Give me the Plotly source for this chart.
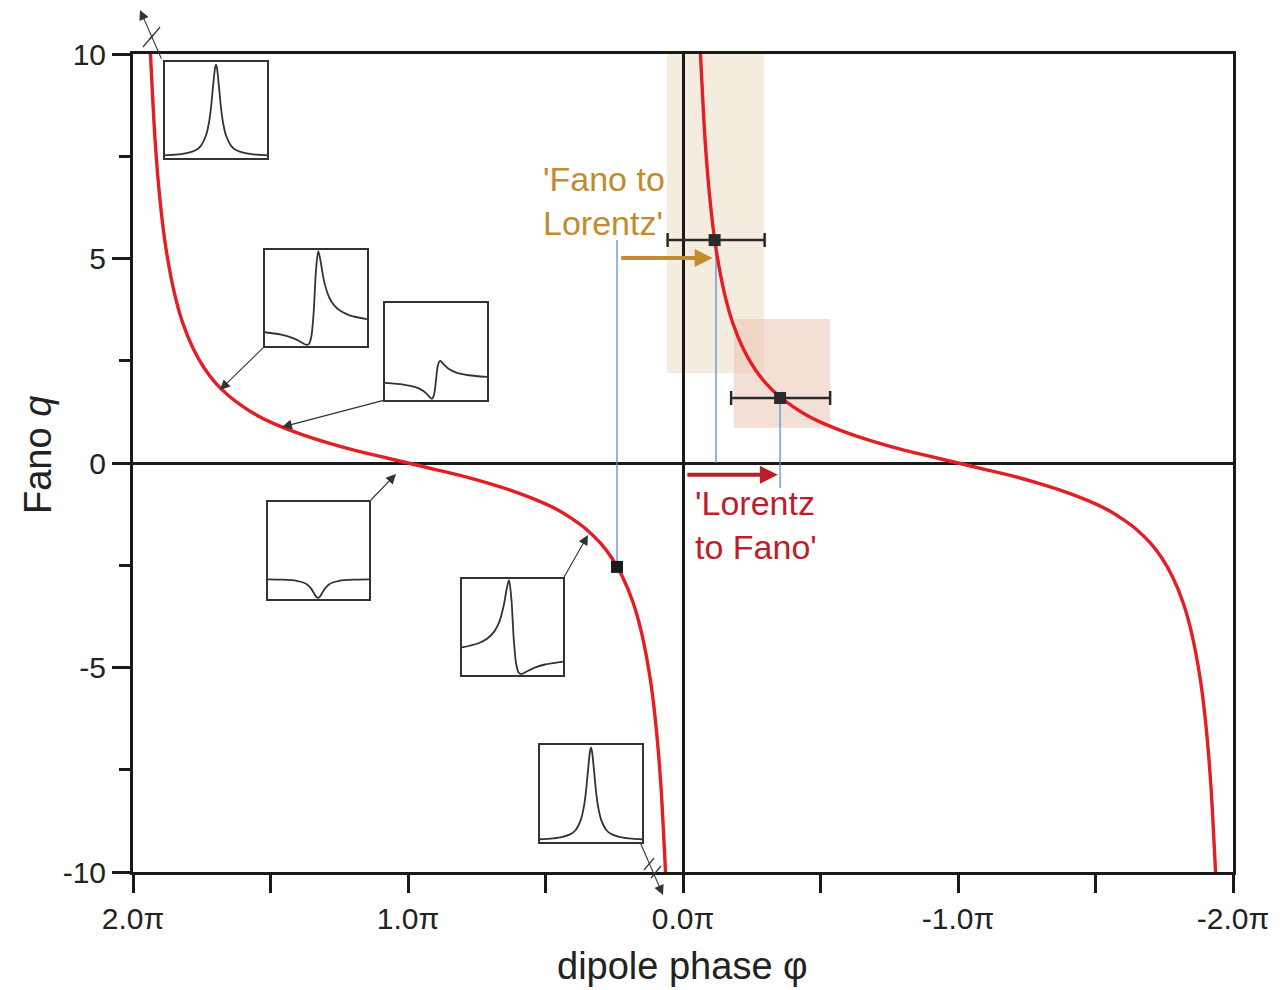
import plotly.graph_objects as go

# ---------------- data (phase in units of pi) ----------------
phi_left = [1.937, 1.92, 1.90, 1.88, 1.85, 1.82, 1.78, 1.74, 1.70, 1.65, 1.60, 1.55, 1.50,
            1.40, 1.30, 1.20, 1.10, 1.00, 0.90, 0.80, 0.70, 0.60, 0.50, 0.45, 0.40, 0.35,
            0.30, 0.26, 0.22, 0.18, 0.15, 0.12, 0.10, 0.08, 0.063]
q_left = [10.07, 7.92, 6.31, 5.24, 4.17, 3.44, 2.78, 2.31, 1.96, 1.63, 1.38, 1.17, 1.00,
          0.73, 0.51, 0.32, 0.16, 0.00, -0.16, -0.32, -0.51, -0.73, -1.00, -1.17, -1.38, -1.63,
          -1.96, -2.31, -2.78, -3.44, -4.17, -5.24, -6.31, -7.92, -10.07]
phi_right = [-0.063, -0.08, -0.10, -0.12, -0.15, -0.18, -0.22, -0.26, -0.30, -0.35, -0.40,
             -0.45, -0.50, -0.60, -0.70, -0.80, -0.90, -1.00, -1.10, -1.20, -1.30, -1.40,
             -1.50, -1.55, -1.60, -1.65, -1.70, -1.74, -1.78, -1.82, -1.85, -1.88, -1.90,
             -1.92, -1.937]
q_right = [10.07, 7.92, 6.31, 5.24, 4.17, 3.44, 2.78, 2.31, 1.96, 1.63, 1.38, 1.17, 1.00,
           0.73, 0.51, 0.32, 0.16, 0.00, -0.16, -0.32, -0.51, -0.73, -1.00, -1.17, -1.38,
           -1.63, -1.96, -2.31, -2.78, -3.44, -4.17, -5.24, -6.31, -7.92, -10.07]

# measured points
meas_phi = [-0.115, -0.353]
meas_q = [5.45, 1.59]
meas_err_plus = [0.171, 0.178]
meas_err_minus = [0.182, 0.182]
calc_phi = [0.24]
calc_q = [-2.54]

# blue guide lines
guide_phi = [0.24, -0.12, -0.353]
guide_top = [5.45, 5.45, 1.59]
guide_bottom = [-2.54, 0.0, -0.61]

# shaded uncertainty bands
band_phi0 = [0.058, -0.185]
band_phi1 = [-0.295, -0.535]
band_q0 = [2.2, 0.86]
band_q1 = [10.0, 3.52]
band_colors = ["rgba(233,219,191,0.5)", "rgba(233,191,173,0.5)"]

x_tickvals = [2, 1, 0, -1, -2]
x_ticktext = ["2.0π", "1.0π", "0.0π", "-1.0π", "-2.0π"]
x_minor = [1.5, 0.5, -0.5, -1.5]
y_tickvals = [-10, -5, 0, 5, 10]
y_ticktext = ["-10", "-5", "0", "5", "10"]
y_minor = [-7.5, -2.5, 2.5, 7.5]

# inset line shapes
lorentz_x = [0, 0.1, 0.2, 0.3, 0.35, 0.4, 0.43, 0.45, 0.47, 0.49, 0.5, 0.51, 0.53, 0.55,
             0.57, 0.6, 0.65, 0.7, 0.8, 0.9, 1.0]
lorentz_y = [0.01, 0.016, 0.03, 0.065, 0.11, 0.22, 0.36, 0.52, 0.75, 0.96, 1.0, 0.96, 0.75,
             0.52, 0.36, 0.22, 0.11, 0.065, 0.03, 0.016, 0.01]
fano2_x = [0, 0.148, 0.28, 0.346, 0.39, 0.412, 0.434, 0.456, 0.478, 0.5, 0.522, 0.544,
           0.566, 0.588, 0.632, 0.676, 0.742, 0.83, 1.0]
fano2_y = [0.675, 0.554, 0.346, 0.17, 0.035, 0, 0.077, 0.5, 1.8, 4.0, 5.0, 4.5, 3.77, 3.2,
           2.5, 2.12, 1.8, 1.576, 1.371]
fano1_x = [0, 0.18, 0.3, 0.38, 0.42, 0.44, 0.46, 0.48, 0.5, 0.52, 0.54, 0.56, 0.58, 0.62,
           0.7, 0.82, 1.0]
fano1_y = [0.84, 0.754, 0.615, 0.4, 0.2, 0.077, 0, 0.2, 1.0, 1.8, 2.0, 1.92, 1.8, 1.6,
           1.385, 1.246, 1.16]
fano0_x = [0, 0.145, 0.285, 0.355, 0.39, 0.425, 0.453, 0.474, 0.495, 0.516, 0.537, 0.565,
           0.6, 0.635, 0.705, 0.845, 1.0]
fano0_y = [0.98, 0.96, 0.9, 0.8, 0.69, 0.5, 0.265, 0.083, 0, 0.083, 0.265, 0.5, 0.69, 0.8,
           0.9, 0.96, 0.98]
fanom2_x = [0, 0.156, 0.251, 0.322, 0.37, 0.418, 0.441, 0.465, 0.489, 0.513, 0.537, 0.56,
            0.584, 0.608, 0.656, 0.727, 0.822, 1.0]
fanom2_y = [1.413, 1.62, 1.885, 2.28, 2.79, 3.77, 4.5, 5.0, 4.0, 1.8, 0.5, 0.077, 0, 0.034,
            0.17, 0.346, 0.5, 0.655]

# ---------------- layout geometry (pixels) ----------------
W, H = 1281, 990
PL, PR, PT, PB = 133, 1233, 54, 872


def px(x):
    return (x - PL) / (PR - PL)


def py(y):
    return (PB - y) / (PB - PT)


BLACK = "#1a1a1a"
RED = "#E41E25"
GOLD = "#C48A32"
DARKRED = "#BC1F2B"
BLUE = "#5B8ED3"

fig = go.Figure()

# bands
shapes = []
for a, b, c, d, col in zip(band_phi0, band_phi1, band_q0, band_q1, band_colors):
    shapes.append(dict(type="rect", xref="x", yref="y", x0=a, x1=b, y0=c, y1=d,
                       fillcolor=col, line=dict(width=0), layer="below"))

# guide lines
for gx, gt, gb in zip(guide_phi, guide_top, guide_bottom):
    fig.add_trace(go.Scatter(x=[gx, gx], y=[gt, gb], mode="lines",
                             line=dict(color=BLUE, width=1.3), hoverinfo="skip"))

# curve
fig.add_trace(go.Scatter(x=phi_left, y=q_left, mode="lines",
                         line=dict(color=RED, width=3.4, shape="spline", smoothing=0.6)))
fig.add_trace(go.Scatter(x=phi_right, y=q_right, mode="lines",
                         line=dict(color=RED, width=3.4, shape="spline", smoothing=0.6)))

# points
fig.add_trace(go.Scatter(x=meas_phi, y=meas_q, mode="markers",
                         marker=dict(symbol="square", size=12, color="#2a2a2a"),
                         error_x=dict(type="data", symmetric=False, array=meas_err_plus,
                                      arrayminus=meas_err_minus, color="#2a2a2a",
                                      thickness=2.5, width=7)))
fig.add_trace(go.Scatter(x=calc_phi, y=calc_q, mode="markers",
                         marker=dict(symbol="square", size=12, color="#1a1a1a")))

# insets
inset_boxes = [(165, 267, 62, 158), (265, 367, 250, 346), (385, 487, 303, 400),
               (268, 369, 502, 599), (462, 563, 579, 675), (540, 642, 745, 842)]
inset_data = [(lorentz_x, lorentz_y, [-0.02, 1.03]),
              (fano2_x, fano2_y, [-0.06, 5.06]),
              (fano1_x, fano1_y, [-0.06, 5.06]),
              (fano0_x, fano0_y, [-0.06, 5.06]),
              (fanom2_x, fanom2_y, [-0.06, 5.06]),
              (lorentz_x, lorentz_y, [-0.02, 1.03])]

layout_axes = {}
for i, ((x0, x1, y0, y1), (ix, iy, yr)) in enumerate(zip(inset_boxes, inset_data), start=2):
    fig.add_trace(go.Scatter(x=ix, y=iy, mode="lines", xaxis=f"x{i}", yaxis=f"y{i}",
                             line=dict(color="#333333", width=1.8, shape="spline",
                                       smoothing=0.8)))
    common = dict(showline=True, mirror=True, linecolor="#333333", linewidth=1.6,
                  showticklabels=False, ticks="", showgrid=False, zeroline=False)
    layout_axes[f"xaxis{i}"] = dict(domain=[px(x0), px(x1)], anchor=f"y{i}",
                                    range=[0, 1], **common)
    layout_axes[f"yaxis{i}"] = dict(domain=[py(y1), py(y0)], anchor=f"x{i}",
                                    range=yr, **common)

annotations = []
# inset pointer arrows: (tail px, tip px)
pointers = [((162, 60), (140, 10)), ((265, 346), (220, 390)), ((385, 400), (282, 427)),
            ((369, 502), (396, 474)), ((563, 579), (588, 535)), ((640, 842), (663, 895))]
for (tx, ty), (hx, hy) in pointers:
    annotations.append(dict(x=px(hx), y=py(hy), xref="paper", yref="paper", text="",
                            showarrow=True, ax=tx - hx, ay=ty - hy, axref="pixel",
                            ayref="pixel", arrowhead=2, arrowsize=1.8, arrowwidth=1.1,
                            arrowcolor="#333333", standoff=0))

# break marks on the off-scale pointers
for cx, cy in [(148, 41), (155, 33), (649, 864), (656, 872)]:
    shapes.append(dict(type="line", xref="paper", yref="paper",
                       x0=px(cx - 5), y0=py(cy + 6), x1=px(cx + 5), y1=py(cy - 6),
                       line=dict(color="#333333", width=1.2)))

# transition arrows
annotations.append(dict(x=-0.108, y=5.01, xref="x", yref="y", text="", showarrow=True,
                        ax=-93, ay=0, axref="pixel", ayref="pixel", arrowhead=2,
                        arrowsize=0.9, arrowwidth=4, arrowcolor=GOLD, standoff=0))
annotations.append(dict(x=-0.345, y=-0.29, xref="x", yref="y", text="", showarrow=True,
                        ax=-92, ay=0, axref="pixel", ayref="pixel", arrowhead=2,
                        arrowsize=0.9, arrowwidth=4, arrowcolor=DARKRED, standoff=0))

# labels
annotations.append(dict(x=px(541), y=py(201), xref="paper", yref="paper",
                        text="'Fano to<br>Lorentz'", showarrow=False, xanchor="left",
                        yanchor="middle", align="left",
                        font=dict(size=34, color=GOLD)))
annotations.append(dict(x=px(693), y=py(525), xref="paper", yref="paper",
                        text="'Lorentz<br>to Fano'", showarrow=False, xanchor="left",
                        yanchor="middle", align="left",
                        font=dict(size=34, color=DARKRED)))

# axis titles
annotations.append(dict(x=px(682), y=py(966), xref="paper", yref="paper",
                        text="dipole phase φ", showarrow=False, xanchor="center",
                        yanchor="middle", font=dict(size=38, color="#222222")))
annotations.append(dict(x=px(38), y=py(455), xref="paper", yref="paper",
                        text="Fano <i>q</i>", showarrow=False, textangle=-90,
                        xanchor="center", yanchor="middle",
                        font=dict(size=38, color="#222222")))

fig.update_layout(
    width=W, height=H,
    margin=dict(l=PL, r=W - PR, t=PT, b=H - PB),
    paper_bgcolor="white", plot_bgcolor="white",
    showlegend=False,
    font=dict(family="Liberation Sans, Arial, Helvetica, sans-serif", color="#222222"),
    xaxis=dict(range=[2, -2], tickmode="array", tickvals=x_tickvals, ticktext=x_ticktext,
               ticks="outside", ticklen=18, tickwidth=2.5, tickcolor=BLACK,
               minor=dict(tickmode="array", tickvals=x_minor, ticks="outside", ticklen=18,
                          tickwidth=2.5, tickcolor=BLACK, showgrid=False),
               showline=True, linewidth=3, linecolor=BLACK, mirror=True,
               showgrid=False, zeroline=True, zerolinecolor=BLACK, zerolinewidth=2.5,
               tickfont=dict(size=30, color="#222222")),
    yaxis=dict(range=[-10, 10], tickmode="array", tickvals=y_tickvals, ticktext=y_ticktext,
               ticks="outside", ticklen=18, tickwidth=2.5, tickcolor=BLACK,
               minor=dict(tickmode="array", tickvals=y_minor, ticks="outside", ticklen=11,
                          tickwidth=2.5, tickcolor=BLACK, showgrid=False),
               showline=True, linewidth=3, linecolor=BLACK, mirror=True,
               showgrid=False, zeroline=True, zerolinecolor=BLACK, zerolinewidth=2.5,
               tickfont=dict(size=30, color="#222222")),
    shapes=shapes,
    annotations=annotations,
    **layout_axes,
)

fig.write_html("out.html")
